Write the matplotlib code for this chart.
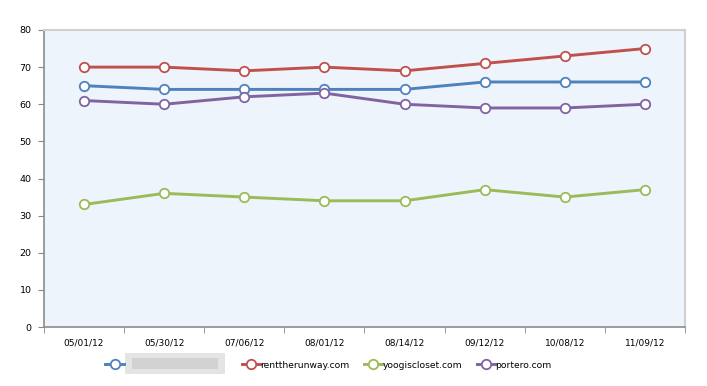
import matplotlib
matplotlib.use("Agg")
import matplotlib.pyplot as plt
from matplotlib.patches import Rectangle

dates = ["05/01/12", "05/30/12", "07/06/12", "08/01/12", "08/14/12", "09/12/12", "10/08/12", "11/09/12"]
blurred = [65, 64, 64, 64, 64, 66, 66, 66]
renttherunway = [70, 70, 69, 70, 69, 71, 73, 75]
yoogiscloset = [33, 36, 35, 34, 34, 37, 35, 37]
portero = [61, 60, 62, 63, 60, 59, 59, 60]

series = [
    ("\u2007" * 18, blurred, "#4F81BD"),
    ("renttherunway.com", renttherunway, "#C0504D"),
    ("yoogiscloset.com", yoogiscloset, "#9BBB59"),
    ("portero.com", portero, "#8064A2"),
]

fig = plt.figure(figsize=(7.07, 3.86), dpi=100)
ax = fig.add_axes([0.0622, 0.1528, 0.9067, 0.7695])
ax.set_facecolor("#EEF4FB")

x = list(range(len(dates)))
for label, vals, col in series:
    ax.plot(x, vals, color=col, lw=2.1, marker="o", ms=6.8, mfc="white",
            mec=col, mew=1.3, label=label, zorder=3)

ax.set_xlim(-0.5, len(dates) - 0.5)
ax.set_ylim(0, 80)
ax.set_yticks(range(0, 81, 10))
ax.set_xticks(x)
ax.set_xticklabels(dates)
ax.set_xticks([i - 0.5 for i in range(len(dates) + 1)], minor=True)
ax.tick_params(axis="x", which="major", length=0, pad=8, labelsize=6.5)
ax.tick_params(axis="x", which="minor", length=4, color="#888888")
ax.tick_params(axis="y", length=4, color="#888888", labelsize=6.8, pad=5)

for s in ["top", "right"]:
    ax.spines[s].set_color("#D0D0D0")
    ax.spines[s].set_linewidth(1.5)
for s in ["left", "bottom"]:
    ax.spines[s].set_color("#8C8C8C")
    ax.spines[s].set_linewidth(1.2)

leg = fig.legend(loc="center", bbox_to_anchor=(0.4646, 0.054), ncol=4, frameon=False,
                 fontsize=6.6, handlelength=2.0, handletextpad=0.0, columnspacing=1.6,
                 borderpad=0, borderaxespad=0)

# blurred-out label of the first series
fig.patches.append(Rectangle((125 / 707, (386 - 374) / 386), 100 / 707, 21 / 386,
                             transform=fig.transFigure, facecolor="#E4E4E4",
                             edgecolor="none"))
fig.patches.append(Rectangle((132 / 707, (386 - 369) / 386), 86 / 707, 11 / 386,
                             transform=fig.transFigure, facecolor="#D2D2D2",
                             edgecolor="none"))

fig.savefig("out.png", dpi=100)
